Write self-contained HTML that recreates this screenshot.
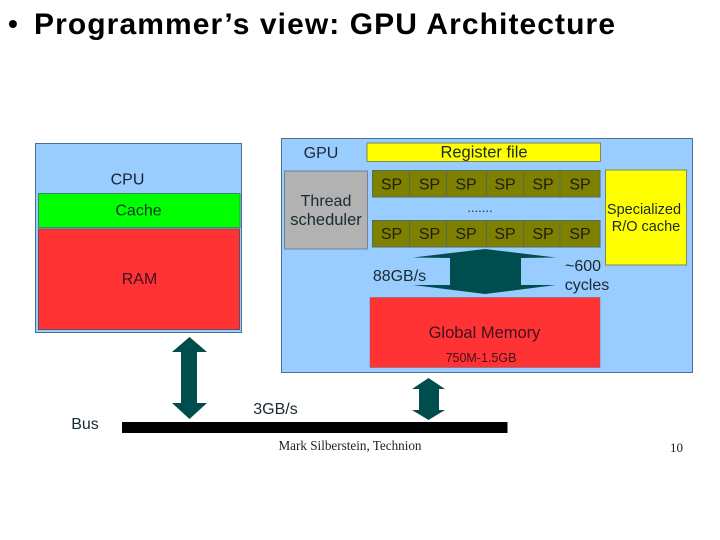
<!DOCTYPE html>
<html><head><meta charset="utf-8"><style>
html,body{margin:0;padding:0;background:#fff}
svg{display:block}
text{font-family:"Liberation Sans",sans-serif}
.d{filter:blur(.3px)}
</style></head><body>
<svg width="720" height="540" viewBox="0 0 720 540" xmlns="http://www.w3.org/2000/svg">
<rect width="720" height="540" fill="#fff"/>
<text x="8" y="33" font-size="28" font-weight="bold" fill="#000">•</text>
<text x="34" y="34" font-size="30" font-weight="bold" fill="#000" textLength="581" lengthAdjust="spacing">Programmer’s view: GPU Architecture</text>

<g class="d">
<rect x="35.500" y="143.500" width="206" height="189" fill="#99ccff" stroke="#4f6f8c" stroke-width="1"/>
<rect x="38.500" y="193.500" width="201.500" height="34" fill="#00ff00" stroke="#3a8a5a" stroke-width="1"/>
<rect x="38.500" y="229" width="201" height="100.500" fill="#ff3333" stroke="#6a4a5a" stroke-width="1"/>
<g fill="#1a2030" text-anchor="middle" font-size="16">
<text x="127.500" y="184.500">CPU</text>
<text x="138.500" y="215.500" fill="#103820">Cache</text>
<text x="139.500" y="284" fill="#401020">RAM</text>
</g>

<rect x="281.500" y="138.500" width="411" height="234" fill="#99ccff" stroke="#4f6f8c" stroke-width="1"/>
<rect x="367" y="143" width="233.500" height="18.500" fill="#ffff00" stroke="#7a8a5a" stroke-width="1"/>
<rect x="284.500" y="171" width="83" height="78" fill="#b2b2b2" stroke="#6f8296" stroke-width="1"/>
<rect x="605.500" y="170" width="81" height="95" fill="#ffff00" stroke="#7a8a5a" stroke-width="1"/>
<rect x="370" y="297.500" width="230" height="70" fill="#ff3333" stroke="#8a5a6a" stroke-width="0.500"/>
<g fill="#808000" stroke="#4f6f5a" stroke-width="1">
<rect x="372.500" y="170.500" width="227.500" height="26.500"/>
<rect x="372.500" y="220.500" width="227.500" height="26.500"/>
<path d="M409.500 170.500V197M446.500 170.500V197M486.500 170.500V197M523.500 170.500V197M560 170.500V197M409.500 220.500V247M446.500 220.500V247M486.500 220.500V247M523.500 220.500V247M560 220.500V247" fill="none"/>
</g>
<polygon fill="#004d4d" points="485,249 556,257.500 521,258 521,285 556,285 485,294 413,285 450,285 450,258 413,257.500"/>
<g fill="#1a2a30" font-size="16" text-anchor="middle">
<text x="321" y="158">GPU</text>
<text x="484" y="157.500" font-size="16.500">Register file</text>
<text x="326" y="206">Thread</text>
<text x="326" y="225" font-size="16.500">scheduler</text>
<text x="644" y="214" font-size="14.500">Specialized</text>
<text x="646" y="231" font-size="14.500">R/O cache</text>
<g fill="#1a1f10">
<text x="391.500" y="189.500">SP</text><text x="429.500" y="189.500">SP</text><text x="466" y="189.500">SP</text><text x="505" y="189.500">SP</text><text x="543" y="189.500">SP</text><text x="580" y="189.500">SP</text>
<text x="391.500" y="239">SP</text><text x="429.500" y="239">SP</text><text x="466" y="239">SP</text><text x="505" y="239">SP</text><text x="543" y="239">SP</text><text x="580" y="239">SP</text>
</g>
<text x="480" y="212" font-size="13">.......</text>
<text x="399.500" y="281">88GB/s</text>
<text x="583" y="271">~600</text>
<text x="587" y="290">cycles</text>
<text x="484.500" y="338" font-size="16.500" fill="#401020">Global Memory</text>
<text x="481" y="362" font-size="12.500" fill="#401020">750M-1.5GB</text>
<text x="85" y="429">Bus</text>
<text x="275.500" y="414">3GB/s</text>
</g>

<polygon fill="#004d4d" points="189.500,337 207,352 197,352 197,403 207,403 189.500,419 172,403 181,403 181,352 172,352"/>
<polygon fill="#004d4d" points="428.500,378 445,389 439,389 439,410 445,410 428.500,420 412,410 419,410 419,389 412,389"/>
<rect x="122" y="422" width="385.500" height="11" fill="#000"/>

<text x="350" y="450" style="font-family:'Liberation Serif',serif" font-size="13.500" text-anchor="middle" fill="#222" textLength="143" lengthAdjust="spacingAndGlyphs">Mark Silberstein, Technion</text>
<text x="676.500" y="452" style="font-family:'Liberation Serif',serif" font-size="13" text-anchor="middle" fill="#222">10</text>
</g>
</svg>
</body></html>
